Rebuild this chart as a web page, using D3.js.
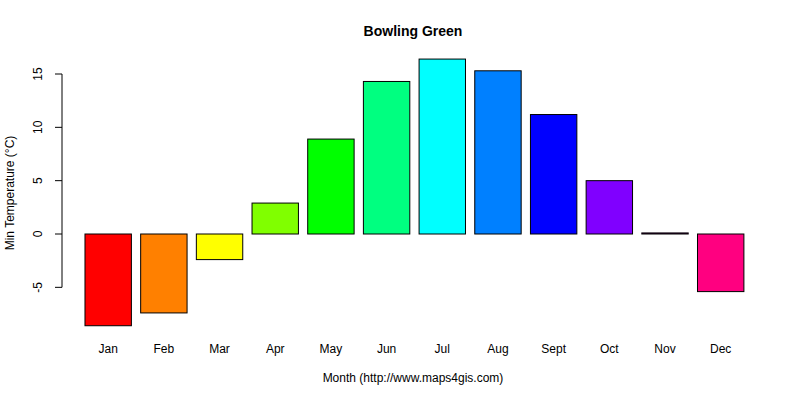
<!DOCTYPE html>
<html><head><meta charset="utf-8">
<script src="https://cdn.jsdelivr.net/npm/d3@7"></script>
<style>body{margin:0;background:#fff}text{font-family:"Liberation Sans",Arial,sans-serif}</style>
</head><body><div id="chart"></div>
<script>
const months = ["Jan","Feb","Mar","Apr","May","Jun","Jul","Aug","Sept","Oct","Nov","Dec"];
const minTemp = [-8.6,-7.4,-2.4,2.9,8.9,14.3,16.4,15.3,11.2,5.0,0.1,-5.4];
const colors = ["#FF0000","#FF8000","#FFFF00","#80FF00","#00FF00","#00FF80","#00FFFF","#0080FF","#0000FF","#8000FF","#FF00FF","#FF0080"];
const yTicks = [-5,0,5,10,15];

const width = 800, height = 400;
const svg = d3.select("#chart").append("svg").attr("width", width).attr("height", height);

// R barplot layout: bar width 1, space 0.2
const x = d3.scaleLinear().domain([0, 14.4]).range([75.7, 743.9]);
const y = d3.scaleLinear().domain([0, 15]).range([234, 74]);

svg.selectAll("rect.bar")
    .data(minTemp)
    .enter()
    .append("rect")
    .attr("x", (d, i) => x(0.2 + i * 1.2))
    .attr("width", x(1) - x(0))
    .attr("y", d => y(Math.max(0, d)))
    .attr("height", d => Math.abs(y(d) - y(0)))
    .attr("fill", (d, i) => colors[i])
    .attr("stroke", "#000")
    .attr("stroke-width", 1);

// Y axis
const ax = svg.append("g").attr("transform", "translate(62,0)");
ax.append("line").attr("x1", 0).attr("x2", 0)
    .attr("y1", y(-5)).attr("y2", y(15)).attr("stroke", "#000");
ax.selectAll("line.tick").data(yTicks).enter().append("line")
    .attr("x1", -7).attr("x2", 0)
    .attr("y1", d => y(d)).attr("y2", d => y(d)).attr("stroke", "#000");
ax.selectAll("text").data(yTicks).enter().append("text")
    .attr("transform", d => `translate(-20,${y(d)}) rotate(-90)`)
    .attr("text-anchor", "middle")
    .style("font-size", "12px")
    .text(d => d);

// Month labels
svg.selectAll("text.month").data(months).enter().append("text")
    .attr("x", (d, i) => x(0.7 + i * 1.2))
    .attr("y", 353)
    .attr("text-anchor", "middle")
    .style("font-size", "12px")
    .text(d => d);

svg.append("text").attr("x", 413).attr("y", 36)
    .attr("text-anchor", "middle").style("font-size", "14px").style("font-weight", "bold")
    .text("Bowling Green");

svg.append("text").attr("x", 413).attr("y", 382)
    .attr("text-anchor", "middle").style("font-size", "12px")
    .text("Month (http://www.maps4gis.com)");

svg.append("text").attr("transform", "translate(14,193) rotate(-90)")
    .attr("text-anchor", "middle").style("font-size", "12px")
    .text("Min Temperature (°C)");
</script></body></html>
